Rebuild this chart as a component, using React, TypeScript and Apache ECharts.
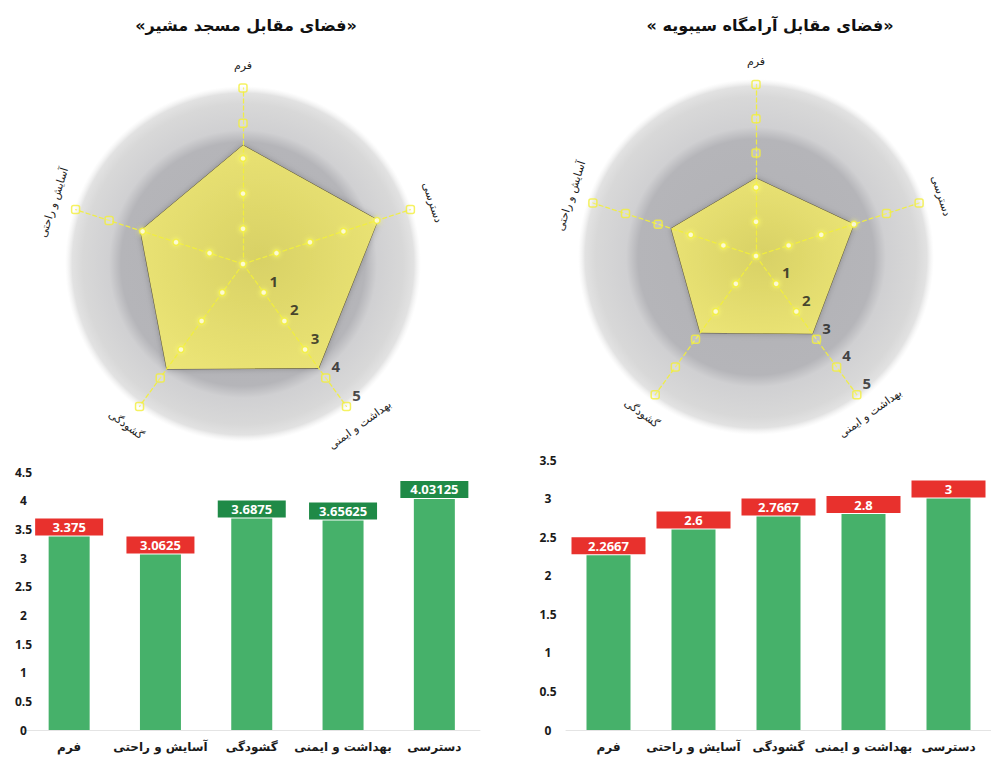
import React, { useEffect, useRef } from "react";
import * as echarts from "echarts";

// ---------- data ----------
const categories = ["فرم", "آسایش و راحتی", "گشودگی", "بهداشت و ایمنی", "دسترسی"];
const leftTitle = "«فضای مقابل مسجد مشیر»";
const rightTitle = "«فضای مقابل آرامگاه سیبویه »";
const leftValues = [3.375, 3.0625, 3.6875, 3.65625, 4.03125];
const rightValues = [2.2667, 2.6, 2.7667, 2.8, 3];
const radarLevels = [0, 1, 2, 3, 4, 5];
const radarMax = 5;
const leftYMax = 4.5;
const rightYMax = 3.5;
const yInterval = 0.5;
const goodThreshold = 3.5;

// ---------- styling / layout ----------
const FA = "DejaVu Sans";
const NUM = "Open Sans";
const RED = "#e8312d";
const GREEN = "#1f8a47";
const BAR = "#46b16a";
const YEL = "#f2ef3a";
const RLM = "\u200F";

type Geo = { cx: number; cy: number; r: number; rin: number; rout: number; ocy: number };
const geoL: Geo = { cx: 243, cy: 264, r: 176, rin: 128, rout: 178, ocy: 264 };
const geoR: Geo = { cx: 756, cy: 256, r: 171.5, rin: 124, rout: 178, ocy: 257 };

function radarParts(idx: number, g: Geo, values: number[]) {
  const radar = {
    center: [g.cx, g.cy],
    radius: g.r,
    startAngle: 90,
    splitNumber: 5,
    shape: "polygon",
    z: 3,
    indicator: categories.map((c) => ({ name: c, min: 0, max: radarMax })),
    axisName: { show: false },
    splitLine: { show: false },
    splitArea: { show: false },
    axisLine: { lineStyle: { color: YEL, type: [4, 3], width: 1.3, opacity: 0.9 } },
  };
  const polar = { center: [g.cx, g.cy], radius: g.r };
  const angleAxis = {
    polarIndex: idx,
    type: "value",
    min: 0,
    max: 360,
    startAngle: 90,
    clockwise: false,
    show: false,
    axisLine: { show: false },
    axisLabel: { show: false },
    axisTick: { show: false },
    splitLine: { show: false },
  };
  const radiusAxis = {
    polarIndex: idx,
    type: "value",
    min: 0,
    max: radarMax,
    show: false,
    axisLine: { show: false },
    axisLabel: { show: false },
    axisTick: { show: false },
    splitLine: { show: false },
  };
  const filled: number[][] = [];
  const hollow: number[][] = [];
  const step = 360 / categories.length;
  categories.forEach((_, i) => {
    radarLevels.forEach((k) => {
      if (k === 0 && i > 0) return;
      const pt = [k, i * step];
      if (k <= values[i] + 0.05) filled.push(pt);
      else hollow.push(pt);
    });
  });
  const series: any[] = [
    {
      type: "radar",
      radarIndex: idx,
      z: 2,
      symbol: "none",
      lineStyle: { color: "#5a5234", width: 1 },
      areaStyle: {
        opacity: 1,
        color: new echarts.graphic.RadialGradient(0.5, 0.5, 0.6, [
          { offset: 0, color: "#d8d165" },
          { offset: 1, color: "#ece576" },
        ]),
        shadowBlur: 6,
        shadowColor: "rgba(0,0,0,0.25)",
      },
      data: [{ value: values }],
    },
    {
      type: "scatter",
      coordinateSystem: "polar",
      polarIndex: idx,
      z: 5,
      symbol: "circle",
      symbolSize: 6,
      itemStyle: {
        color: "#fffde8",
        borderColor: YEL,
        borderWidth: 1.5,
        shadowBlur: 5,
        shadowColor: "#ffff70",
      },
      data: filled,
    },
    {
      type: "scatter",
      coordinateSystem: "polar",
      polarIndex: idx,
      z: 5,
      symbol: "roundRect",
      symbolSize: 8,
      itemStyle: {
        color: "rgba(255,255,255,0.25)",
        borderColor: YEL,
        borderWidth: 1.5,
      },
      data: hollow,
    },
    {
      type: "scatter",
      coordinateSystem: "polar",
      polarIndex: idx,
      z: 6,
      symbolSize: 0,
      silent: true,
      label: {
        show: true,
        position: "top",
        distance: 4,
        offset: [10, 0],
        formatter: (p: any) => String(p.value[0]),
        color: "#1c1c1c",
        fontFamily: NUM,
        fontWeight: "bold",
        fontSize: 15,
      },
      data: radarLevels.filter((k) => k > 0).map((k) => [k, 3 * step]),
    },
  ];
  const graphic: any[] = [
    {
      type: "circle",
      z: 0,
      silent: true,
      shape: { cx: g.cx, cy: g.ocy, r: g.rout },
      style: {
        fill: new echarts.graphic.RadialGradient(0.5, 0.5, 0.5, [
          { offset: 0, color: "#b1b1b5" },
          { offset: (g.rin - 6) / g.rout, color: "#b5b5b9" },
          { offset: (g.rin + 6) / g.rout, color: "#d0d0d2" },
          { offset: 0.9, color: "#d8d8d8" },
          { offset: 0.96, color: "#e2e2e2" },
          { offset: 1, color: "rgba(240,240,240,0)" },
        ]),
      },
    },
  ];
  categories.forEach((c, i) => {
    const th = 90 + i * step;
    const rad = (th * Math.PI) / 180;
    const d = g.r + 23;
    let rot = th - 90;
    if (rot > 90 && rot < 270) rot -= 180;
    if (rot >= 270) rot -= 360;
    graphic.push({
      type: "text",
      z: 10,
      x: g.cx + d * Math.cos(rad),
      y: g.cy - d * Math.sin(rad),
      rotation: (rot * Math.PI) / 180,
      style: {
        text: c,
        fill: "#1e1e1e",
        font: `11px "${FA}"`,
        align: "center",
        verticalAlign: "middle",
      },
    });
  });
  return { radar, polar, angleAxis, radiusAxis, series, graphic };
}

function barParts(idx: number, values: number[]) {
  return {
    type: "bar",
    xAxisIndex: idx,
    yAxisIndex: idx,
    barWidth: idx === 0 ? 41 : 44,
    itemStyle: { color: BAR },
    z: 3,
    data: values.map((v) => ({
      value: v,
      label: { backgroundColor: v >= goodThreshold ? GREEN : RED },
    })),
    label: {
      show: true,
      position: "top",
      distance: 1,
      formatter: "{c}",
      color: "#ffffff",
      fontFamily: NUM,
      fontWeight: "bold",
      fontSize: 13,
      width: idx === 0 ? 68 : 74,
      height: 17,
      lineHeight: 17,
      align: "center",
      padding: 0,
    },
  };
}

export default function App() {
  const ref = useRef<HTMLDivElement>(null);
  useEffect(() => {
    if (!ref.current) return;
    const chart = echarts.init(ref.current, undefined, { renderer: "svg" });
    const L = radarParts(0, geoL, leftValues);
    const R = radarParts(1, geoR, rightValues);
    const xAxisBase = (idx: number) => ({
      type: "category",
      gridIndex: idx,
      data: categories,
      axisTick: { show: false },
      axisLine: { lineStyle: { color: "#e4e4e4", width: 1 } },
      axisLabel: {
        interval: 0,
        margin: 11,
        color: "#1a1a1a",
        fontFamily: FA,
        fontWeight: "bold",
        fontSize: 12,
      },
    });
    const yAxisBase = (idx: number, max: number, margin: number) => ({
      type: "value",
      gridIndex: idx,
      min: 0,
      max,
      interval: yInterval,
      axisLine: { show: false },
      axisTick: { show: false },
      splitLine: { show: false },
      axisLabel: {
        margin,
        align: "center",
        color: "#1a1a1a",
        fontFamily: NUM,
        fontWeight: "bold",
        fontSize: 12,
      },
    });
    const option: any = {
      animation: false,
      backgroundColor: "#ffffff",
      title: [
        {
          text: RLM + leftTitle + RLM,
          left: 241,
          top: 12,
          textAlign: "center",
          textStyle: { fontFamily: FA, fontWeight: "bold", fontSize: 16, color: "#111" },
        },
        {
          text: RLM + rightTitle + RLM,
          left: 765,
          top: 12,
          textAlign: "center",
          textStyle: { fontFamily: FA, fontWeight: "bold", fontSize: 16, color: "#111" },
        },
      ],
      radar: [L.radar, R.radar],
      polar: [L.polar, R.polar],
      angleAxis: [L.angleAxis, R.angleAxis],
      radiusAxis: [L.radiusAxis, R.radiusAxis],
      grid: [
        { left: 23.5, top: 472, width: 456.5, height: 258 },
        { left: 566, top: 460, width: 441.25, height: 270 },
      ],
      xAxis: [xAxisBase(0), xAxisBase(1)],
      yAxis: [yAxisBase(0, leftYMax, 0), yAxisBase(1, rightYMax, 18)],
      series: [...L.series, ...R.series, barParts(0, leftValues), barParts(1, rightValues)],
      graphic: [...L.graphic, ...R.graphic],
    };
    chart.setOption(option);
    return () => chart.dispose();
  }, []);
  return (
    <div
      ref={ref}
      style={{ position: "fixed", left: 0, top: 0, width: 991, height: 763, background: "#fff" }}
    />
  );
}
